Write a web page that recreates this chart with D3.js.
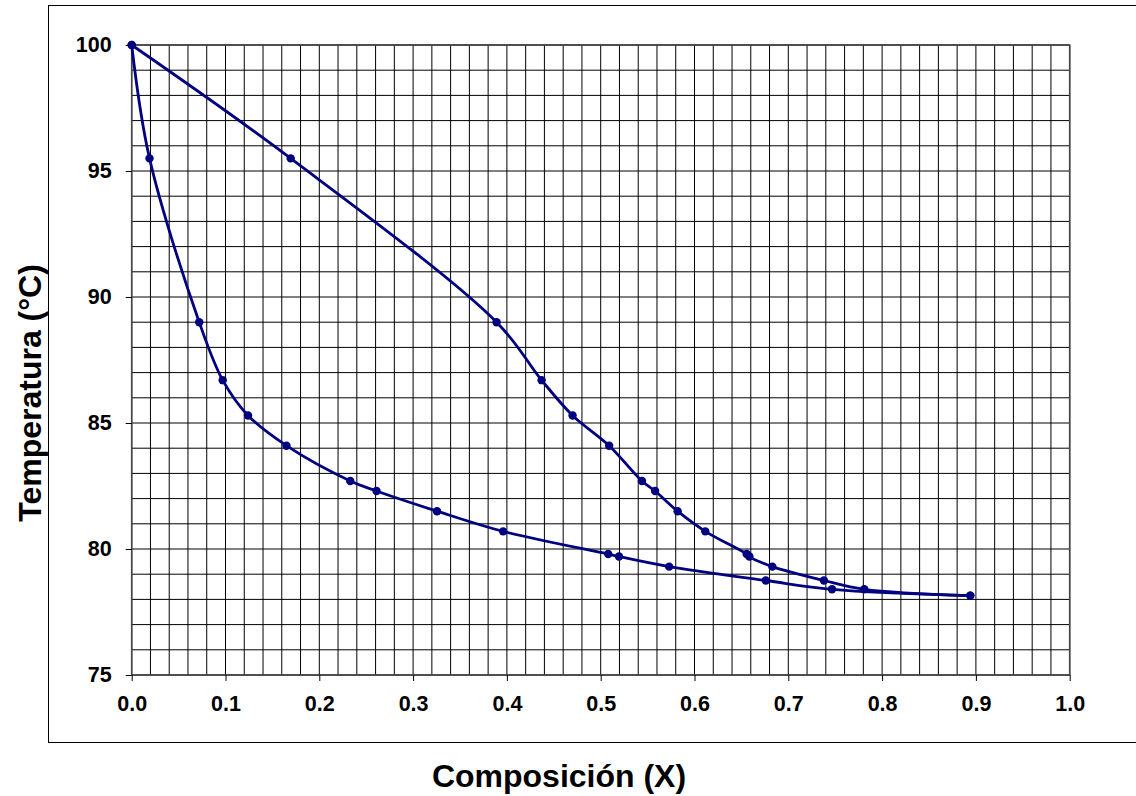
<!DOCTYPE html>
<html>
<head>
<meta charset="utf-8">
<script src="https://cdn.jsdelivr.net/npm/d3@7"></script>
<style>
  body { margin: 0; background: #fff; }
  svg { display: block; font-family: "Liberation Sans", Arial, sans-serif; }
</style>
</head>
<body>
<svg id="chart" width="1136" height="796"></svg>
<script>
// temperatures shared by both curves (°C)
const temps = [100, 95.5, 89, 86.7, 85.3, 84.1, 82.7, 82.3, 81.5, 80.7, 79.8, 79.7, 79.3, 78.75, 78.4, 78.15]
// liquid composition (lower curve)
const xLiquid = [0, 0.019, 0.072, 0.097, 0.124, 0.165, 0.233, 0.261, 0.3255, 0.396, 0.508, 0.5195, 0.573, 0.676, 0.7466, 0.894]
// vapour composition (upper curve)
const xVapor = [0, 0.1695, 0.389, 0.437, 0.470, 0.509, 0.544, 0.558, 0.582, 0.6115, 0.6556, 0.6585, 0.683, 0.738, 0.781, 0.894]

const xTicks = [0, 0.1, 0.2, 0.3, 0.4, 0.5, 0.6, 0.7, 0.8, 0.9, 1.0]
const yTicks = [75, 80, 85, 90, 95, 100]

const svg = d3.select('#chart')
const navy = '#000080'

const x = d3.scaleLinear().domain([0, 1]).range([131.7, 1069.7])
const y = d3.scaleLinear().domain([75, 100]).range([675, 45])

// outer frame (right side runs off the page)
svg.append('rect')
    .attr('x', 48.5).attr('y', 5.5)
    .attr('width', 1100).attr('height', 737)
    .attr('fill', 'none')
    .attr('stroke', '#000')
    .attr('stroke-width', 1)

// grid: every 0.02 in x, every 1 °C in y
const g = svg.append('g')
g.append('g').selectAll('line')
    .data(d3.range(0, 51).map(i => i / 50))
    .join('line')
    .attr('x1', d => x(d)).attr('x2', d => x(d))
    .attr('y1', y(75)).attr('y2', y(100))
    .attr('stroke', '#000').attr('stroke-width', 1)
g.append('g').selectAll('line')
    .data(d3.range(75, 101))
    .join('line')
    .attr('x1', x(0)).attr('x2', x(1))
    .attr('y1', d => y(d)).attr('y2', d => y(d))
    .attr('stroke', '#000').attr('stroke-width', 1)

// plot border, a bit heavier
g.append('rect')
    .attr('x', x(0)).attr('y', y(100))
    .attr('width', x(1) - x(0)).attr('height', y(75) - y(100))
    .attr('fill', 'none').attr('stroke', '#444').attr('stroke-width', 1.6)

// axes
const xAxis = d3.axisBottom(x).tickValues(xTicks).tickFormat(d3.format('.1f'))
    .tickSize(6).tickSizeOuter(0).tickPadding(15)
const yAxis = d3.axisLeft(y).tickValues(yTicks).tickFormat(d3.format('d'))
    .tickSize(6).tickSizeOuter(0).tickPadding(14)

svg.append('g').attr('transform', `translate(0,${y(75)})`).call(xAxis)
    .call(a => a.select('.domain').remove())
svg.append('g').attr('transform', `translate(${x(0)},0)`).call(yAxis)
    .call(a => a.select('.domain').remove())

svg.selectAll('.tick text')
    .style('font-family', '"Liberation Sans", Arial, sans-serif')
    .style('font-size', '21.5px')
    .style('font-weight', 'bold')
    .attr('fill', '#000')
svg.selectAll('.tick line').attr('stroke', '#000')

// curves (smoothed like the spreadsheet line)
const line = d3.line()
    .x(d => x(d[0])).y(d => y(d[1]))
    .curve(d3.curveCatmullRom.alpha(0.5))

const series = [
    xLiquid.map((v, i) => [v, temps[i]]),
    xVapor.map((v, i) => [v, temps[i]])
]

series.forEach(pts => {
    svg.append('path')
        .datum(pts)
        .attr('d', line)
        .attr('fill', 'none')
        .attr('stroke', navy)
        .attr('stroke-width', 2.8)
    svg.append('g').selectAll('circle')
        .data(pts)
        .join('circle')
        .attr('cx', d => x(d[0]))
        .attr('cy', d => y(d[1]))
        .attr('r', 4.2)
        .attr('fill', navy)
})

// axis titles
svg.append('text')
    .attr('transform', 'translate(41,393) rotate(-90)')
    .attr('text-anchor', 'middle')
    .style('font-size', '32px')
    .style('font-weight', 'bold')
    .text('Temperatura (°C)')

svg.append('text')
    .attr('x', 559).attr('y', 787)
    .attr('text-anchor', 'middle')
    .style('font-size', '32px')
    .style('font-weight', 'bold')
    .text('Composición (X)')
</script>
</body>
</html>
